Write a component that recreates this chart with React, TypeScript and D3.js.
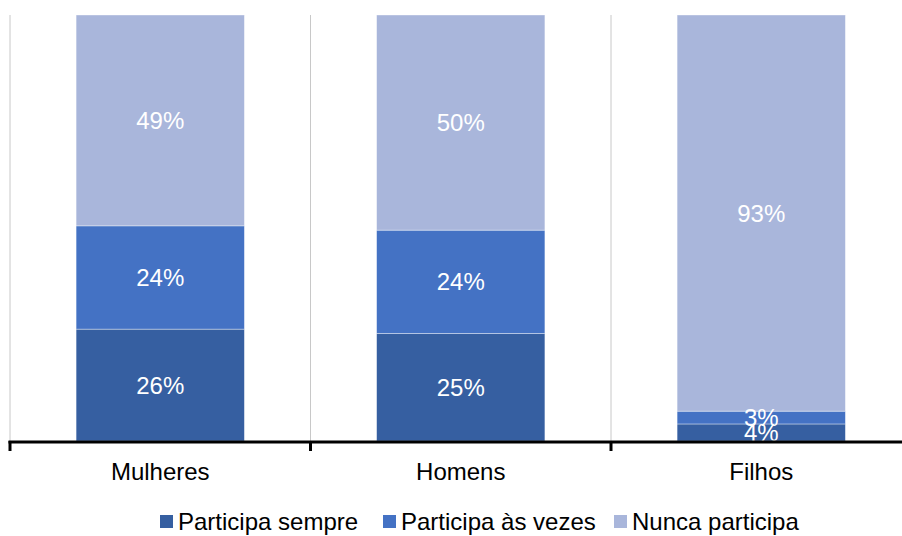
import React from "react";
import * as d3 from "d3";

const categories = ["Mulheres", "Homens", "Filhos"];
const seriesNames = ["Participa sempre", "Participa às vezes", "Nunca participa"];
const sempre = [26, 25, 4];
const asVezes = [24, 24, 3];
const nunca = [49, 50, 93];
const colors = ["#365FA1", "#4472C4", "#A9B6DB"];

const W = 902;
const H = 536;
const FONT = "'Liberation Sans', Arial, sans-serif";

export default function App() {
  const rows = categories.map((c, i) => ({
    cat: c,
    s0: sempre[i],
    s1: asVezes[i],
    s2: nunca[i],
  }));
  const keys = ["s0", "s1", "s2"];
  const stacked = d3
    .stack<any>()
    .keys(keys)
    .offset(d3.stackOffsetExpand)(rows);

  const x = d3
    .scaleBand<string>()
    .domain(categories)
    .range([10, 911.5])
    .paddingInner(0.44)
    .paddingOuter(0.22);
  const y = d3.scaleLinear().domain([0, 1]).range([441, 15]);
  const step = x.step();
  const bounds = categories.map((c) => (x(c) as number) - step * 0.22);
  bounds.push(bounds[bounds.length - 1] + step);

  const legendX = [160, 383, 614];

  return (
    <svg width={W} height={H} style={{ position: "absolute", left: 0, top: 0 }}>
      <rect width={W} height={H} fill="#fff" />
      {bounds.map((b, i) => (
        <line key={"g" + i} x1={b} x2={b} y1={15} y2={441} stroke="#C8C8C8" strokeWidth={1} />
      ))}
      {stacked.map((layer, si) => (
        <g key={si}>
          {layer.map((d, i) => (
            <rect
              key={i}
              x={x(categories[i])}
              width={x.bandwidth()}
              y={y(d[1])}
              height={y(d[0]) - y(d[1])}
              fill={colors[si]}
              stroke="rgba(255,255,255,0.5)"
              strokeWidth={0.75}
            />
          ))}
        </g>
      ))}
      {stacked.map((layer, si) => (
        <g key={"l" + si}>
          {layer.map((d, i) => (
            <text
              key={i}
              x={(x(categories[i]) as number) + x.bandwidth() / 2}
              y={(y(d[0]) + y(d[1])) / 2}
              dy="0.36em"
              textAnchor="middle"
              fill="#fff"
              fontFamily={FONT}
              fontSize={24}
            >
              {[sempre, asVezes, nunca][si][i]}%
            </text>
          ))}
        </g>
      ))}
      <line x1={8.5} x2={W} y1={442} y2={442} stroke="#000" strokeWidth={3} />
      {bounds.slice(0, 3).map((b, i) => (
        <line key={"t" + i} x1={b} x2={b} y1={441} y2={451} stroke="#000" strokeWidth={3} />
      ))}
      {categories.map((c) => (
        <text
          key={c}
          x={(x(c) as number) + x.bandwidth() / 2}
          y={480}
          textAnchor="middle"
          fill="#000"
          fontFamily={FONT}
          fontSize={24}
        >
          {c}
        </text>
      ))}
      {seriesNames.map((n, i) => (
        <g key={n}>
          <rect x={legendX[i]} y={515} width={13} height={13} fill={colors[i]} />
          <text x={legendX[i] + 18} y={530} fill="#000" fontFamily={FONT} fontSize={24}>
            {n}
          </text>
        </g>
      ))}
    </svg>
  );
}
